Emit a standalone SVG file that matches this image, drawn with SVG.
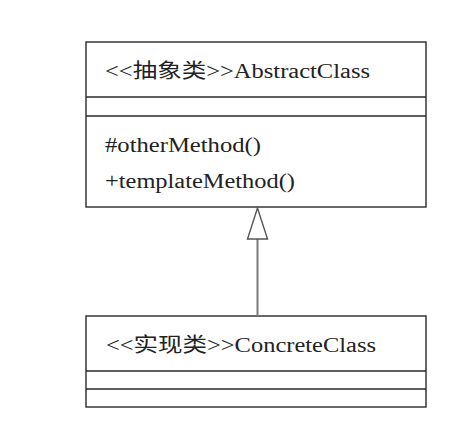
<svg xmlns="http://www.w3.org/2000/svg" width="464" height="444" viewBox="0 0 464 444">
<style>
.box{fill:#fff;stroke:#2a2a2a;stroke-width:1.4}
.div{stroke:#2a2a2a;stroke-width:1.4}
.t{font-family:"Liberation Serif","Noto Sans CJK SC",serif;font-size:20px;fill:#222}
.conn{stroke:#7a7a7a;stroke-width:2;fill:none}
.head{fill:#fff;stroke:#555;stroke-width:1.4}
</style>
<rect width="464" height="444" fill="#fff"/>
<g id="AbstractClass">
<rect class="box" x="86" y="42" width="340" height="165"/>
<line class="div" x1="86" y1="97" x2="426" y2="97"/>
<line class="div" x1="86" y1="116" x2="426" y2="116"/>
<text class="t" x="105" y="78" textLength="265" lengthAdjust="spacingAndGlyphs">&lt;&lt;抽象类&gt;&gt;AbstractClass</text>
<text class="t" x="105" y="152" textLength="156" lengthAdjust="spacingAndGlyphs">#otherMethod()</text>
<text class="t" x="105" y="188" textLength="190" lengthAdjust="spacingAndGlyphs">+templateMethod()</text>
</g>
<g id="ConcreteClass">
<rect class="box" x="86" y="316" width="340" height="91"/>
<line class="div" x1="86" y1="371" x2="426" y2="371"/>
<line class="div" x1="86" y1="389" x2="426" y2="389"/>
<text class="t" x="106" y="352" textLength="270" lengthAdjust="spacingAndGlyphs">&lt;&lt;实现类&gt;&gt;ConcreteClass</text>
</g>
<g id="connectors">
<line class="conn" x1="257.5" y1="239" x2="257.5" y2="316"/>
<polygon class="head" points="257.5,208 247.5,239 267.5,239"/>
</g>
</svg>
